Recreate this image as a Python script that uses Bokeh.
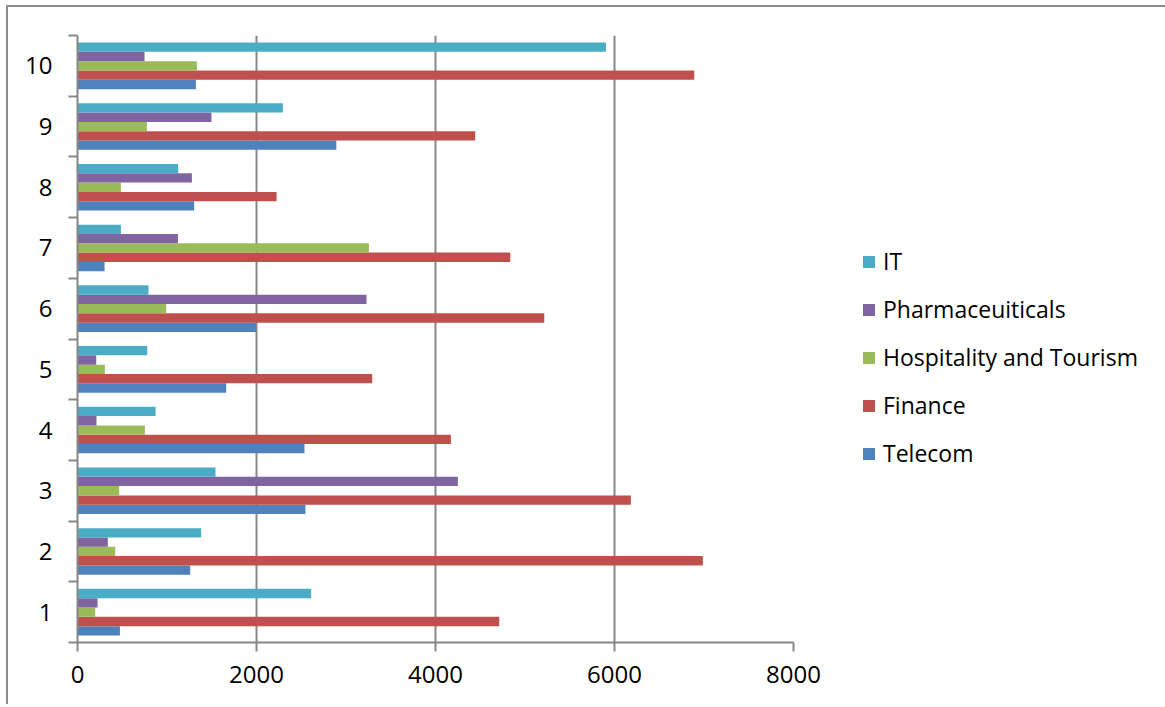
from bokeh.plotting import figure
from bokeh.models import Range1d, FixedTicker, Legend, LegendItem, ColumnDataSource
from bokeh.embed import file_html
from bokeh.resources import INLINE

categories = [1, 2, 3, 4, 5, 6, 7, 8, 9, 10]
series_names = ["Telecom", "Finance", "Hospitality and Tourism", "Pharmaceuiticals", "IT"]
telecom = [474, 1259, 2547, 2536, 1661, 1995, 302, 1304, 2892, 1323]
finance = [4712, 6987, 6183, 4172, 3293, 5215, 4835, 2224, 4444, 6891]
hospitality = [198, 421, 466, 753, 306, 991, 3256, 485, 775, 1334]
pharma = [224, 339, 4250, 212, 209, 3229, 1122, 1278, 1497, 749]
it = [2611, 1382, 1542, 872, 779, 793, 485, 1125, 2295, 5904]
colors = ["#4F81BD", "#C0504D", "#9BBB59", "#8064A2", "#4BACC6"]
x_ticks = [0, 2000, 4000, 6000, 8000]

FONT = "Open Sans"
GRAY = "#878787"

p = figure(frame_width=716, frame_height=607, output_backend="svg", toolbar_location=None,
           x_range=Range1d(0, 8000), y_range=Range1d(0.5, 10.5),
           min_border_left=69, min_border_top=28, min_border_bottom=62, min_border_right=0)
p.styles = {"border-top": "2px solid #8c8c8c", "border-left": "2px solid #8c8c8c",
            "margin-top": "5px", "margin-left": "6px"}
p.outline_line_color = None
p.background_fill_color = "white"
p.border_fill_color = "white"

bar_h = 0.1535
all_series = [telecom, finance, hospitality, pharma, it]
renderers = []
for i, (name, vals, col) in enumerate(zip(series_names, all_series, colors)):
    off = (i - 2) * bar_h
    src = ColumnDataSource(dict(y=[c + off for c in categories], right=vals))
    r = p.hbar(y="y", right="right", left=0, height=bar_h, source=src,
               fill_color=col, line_color=None)
    renderers.append((name, r))

# axes
xa = p.xaxis[0]
xa.ticker = FixedTicker(ticks=x_ticks, minor_ticks=[])
xa.axis_line_color = GRAY
xa.axis_line_width = 2
xa.major_tick_line_color = GRAY
xa.major_tick_line_width = 2
xa.major_tick_out = 9
xa.major_tick_in = 0
xa.minor_tick_line_color = None
xa.major_label_text_font = FONT
xa.major_label_text_font_size = "24px"
xa.major_label_text_color = "black"
xa.major_label_standoff = 14

ya = p.yaxis[0]
ya.ticker = FixedTicker(ticks=categories, minor_ticks=[c - 0.5 for c in categories] + [10.5])
ya.axis_line_color = GRAY
ya.axis_line_width = 2
ya.major_tick_line_color = None
ya.major_tick_out = 9
ya.major_tick_in = 0
ya.minor_tick_line_color = GRAY
ya.minor_tick_line_width = 2
ya.minor_tick_out = 9
ya.minor_tick_in = 0
ya.major_label_text_font = FONT
ya.major_label_text_font_size = "24px"
ya.major_label_text_color = "black"
ya.major_label_standoff = 16

p.xgrid.grid_line_color = GRAY
p.xgrid.grid_line_width = 2
p.ygrid.grid_line_color = None

items = [LegendItem(label=n, renderers=[r]) for n, r in reversed(renderers)]
legend = Legend(items=items, location=(68, 173))
legend.border_line_color = None
legend.background_fill_alpha = 0
legend.margin = 0
legend.padding = 0
legend.glyph_width = 15
legend.glyph_height = 15
legend.label_height = 30
legend.spacing = 16
legend.label_standoff = 7
legend.label_text_font = FONT
legend.label_text_font_size = "23px"
legend.label_text_color = "black"
p.add_layout(legend, "right")

open("out.html", "w").write(file_html(p, INLINE))
